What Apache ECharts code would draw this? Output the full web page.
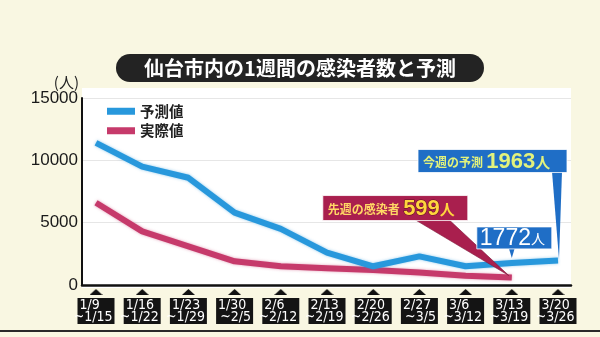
<!DOCTYPE html>
<html><head><meta charset="utf-8">
<script src="https://cdn.jsdelivr.net/npm/echarts@6/dist/echarts.min.js"></script>
<style>html,body{margin:0;padding:0;background:#f9f7e2;}#main{width:600px;height:337px;}</style>
</head><body><div id="main"></div>
<script>
const titleText = '仙台市内の1週間の感染者数と予測';
const categories = ['1/9~1/15','1/16~1/22','1/23~1/29','1/30~2/5','2/6~2/12','2/13~2/19','2/20~2/26','2/27~3/5','3/6~3/12','3/13~3/19','3/20~3/26'];
const forecast = [11400, 9500, 8600, 5800, 4500, 2600, 1500, 2300, 1500, 1772, 1963];
const actual = [6600, 4300, 3100, 1900, 1500, 1350, 1200, 1000, 750, 599];
const yTicks = [0, 5000, 10000, 15000];
const seriesNames = ['予測値', '実際値'];

const BLUE = '#2898dc', RED = '#c63a6b';
const JP = '"Noto Sans CJK JP", sans-serif';
const NUM = '"Liberation Sans", Arial, sans-serif';
const NARROW = '"Liberation Sans Narrow", "DejaVu Sans Condensed", sans-serif';

const tri = document.createElement('canvas');
tri.width = 13; tri.height = 6;
const tc = tri.getContext('2d');
tc.fillStyle = '#111'; tc.beginPath(); tc.moveTo(0,6); tc.lineTo(13,6); tc.lineTo(6.5,0); tc.closePath(); tc.fill();

const chart = echarts.init(document.getElementById('main'));
const option = {
  backgroundColor: '#f9f7e2',
  animation: false,
  grid: [
    {left: 82, right: 29, top: 98, bottom: 52},
    {left: 96, right: 42, top: 98, bottom: 52}
  ],
  legend: {
    data: seriesNames, orient: 'vertical', left: 102, top: 99,
    itemWidth: 28, itemHeight: 7, itemGap: 5, icon: 'rect',
    textStyle: {fontFamily: JP, fontSize: 14.5, fontWeight: 'bold', color: '#222'}
  },
  xAxis: [
    {type: 'value', gridIndex: 0, min: 0, max: 1,
     axisLine: {show: true, lineStyle: {color: '#111', width: 2.5}},
     axisTick: {show: false}, axisLabel: {show: false}, splitLine: {show: false}},
    {type: 'category', gridIndex: 1, data: categories, boundaryGap: false, position: 'bottom',
     axisLine: {show: false}, axisTick: {show: false}, splitLine: {show: false},
     axisLabel: {
       interval: 0, margin: 13, backgroundColor: '#141414', padding: [2, 2, 1, 2],
       lineHeight: 11.5, fontFamily: NARROW, fontSize: 14, color: '#fff',
       formatter: function (v) { const p = v.split('~'); return '{a|' + p[0] + '}\n{b|~' + p[1] + '}'; },
       rich: {
         a: {width: 33, align: 'left', lineHeight: 11.5, color: '#fff', fontFamily: NARROW, fontSize: 14},
         b: {width: 33, align: 'right', lineHeight: 11.5, color: '#fff', fontFamily: NARROW, fontSize: 14}
       }
     }},
    {type: 'category', gridIndex: 1, data: categories, boundaryGap: false, position: 'bottom', offset: 0,
     axisLine: {show: false}, axisTick: {show: false}, splitLine: {show: false},
     axisLabel: {
       interval: 0, margin: 4,
       formatter: function () { return '{tri| }'; },
       rich: {tri: {width: 13, height: 6, lineHeight: 6, backgroundColor: {image: tri}}}
     }}
  ],
  yAxis: [
    {type: 'value', gridIndex: 0, min: yTicks[0], max: yTicks[yTicks.length - 1], interval: yTicks[1] - yTicks[0],
     name: '(人)', nameLocation: 'end', nameGap: 14,
     nameTextStyle: {fontFamily: JP, fontSize: 15, color: '#222', align: 'right', verticalAlign: 'middle', padding: [0, 3, 0, 0]},
     axisLine: {show: true, lineStyle: {color: '#111', width: 2}},
     axisTick: {show: false},
     axisLabel: {fontFamily: NUM, fontSize: 17, color: '#1a1a1a', margin: 4, formatter: function (v) { return String(v); }},
     splitLine: {show: true, lineStyle: {color: '#e6e6e6', width: 1}}},
    {type: 'value', gridIndex: 1, min: yTicks[0], max: yTicks[yTicks.length - 1], show: false}
  ],
  series: [
    {name: seriesNames[0], type: 'line', xAxisIndex: 1, yAxisIndex: 1, data: forecast,
     showSymbol: false, symbol: 'none', color: BLUE,
     lineStyle: {width: 6, color: BLUE, shadowColor: 'rgba(40,152,220,0.5)', shadowBlur: 3}, z: 3},
    {name: seriesNames[1], type: 'line', xAxisIndex: 1, yAxisIndex: 1, data: actual,
     showSymbol: false, symbol: 'none', color: RED,
     lineStyle: {width: 6, color: RED, shadowColor: 'rgba(198,58,107,0.5)', shadowBlur: 3}, z: 2}
  ]
};
chart.setOption(option);

function px(si, i, v) { return chart.convertToPixel({seriesIndex: si}, [i, v]); }
const last = forecast.length - 1;
const pA = px(0, last, forecast[last]);
const pC = px(0, last - 1, forecast[last - 1]);
const lastA = actual.length - 1;
const pB = px(1, lastA, actual[lastA]);

const boxA = {x: pA[0] - 140, y: pA[1] - 111, width: 149, height: 23};
const boxB = {x: pB[0] - 189, y: pB[1] - 82, width: 145, height: 25};
const boxC = {x: pC[0] - 35, y: pC[1] - 36, width: 75, height: 22};

const graphics = [
  {type: 'rect', id: 'panel', z: -5, shape: {x: 82, y: 88, width: 489, height: 200}, style: {fill: '#ffffff'}},
  {type: 'rect', id: 'bottomline', z: -5, shape: {x: 0, y: 330, width: 600, height: 2}, style: {fill: '#2a2a2a'}},
  {type: 'rect', id: 'titlebox', z: 20, shape: {x: 116, y: 54, width: 368, height: 28, r: 14}, style: {fill: '#232323'}},
  {type: 'text', id: 'titletext', z: 21, style: {text: titleText, x: 300, y: 68.5, align: 'center', verticalAlign: 'middle',
    fill: '#fff', fontFamily: JP, fontSize: 20, fontWeight: 'bold'}},
  {type: 'polygon', id: 'tailA', z: 30, shape: {points: [[pA[0] - 6, boxA.y + boxA.height - 1], [pA[0] + 4, boxA.y + boxA.height - 1], [pA[0] + 1, pA[1] - 1]]}, style: {fill: '#1f6ec6'}},
  {type: 'rect', id: 'boxA', z: 31, shape: boxA, style: {fill: '#1f6ec6', stroke: '#ffffff', lineWidth: 0.8}},
  {type: 'text', id: 'textA', z: 32, style: {
    text: '{s|今週の予測} {n|' + forecast[last] + '}{u|人}', x: boxA.x + 5, y: boxA.y + boxA.height / 2 + 1,
    align: 'left', verticalAlign: 'middle',
    rich: {
      s: {fill: '#e2f27c', fontFamily: JP, fontSize: 12, fontWeight: 'bold'},
      n: {fill: '#e2f27c', fontFamily: NUM, fontSize: 22, fontWeight: 'bold'},
      u: {fill: '#e2f27c', fontFamily: JP, fontSize: 15, fontWeight: 'bold'}
    }}},
  {type: 'polygon', id: 'tailB', z: 30, shape: {points: [[pB[0] - 97, boxB.y + boxB.height - 1], [pB[0] - 63, boxB.y + boxB.height - 1], [pB[0] - 3, pB[1] - 2]]}, style: {fill: '#a91f4e', stroke: '#7e1538', lineWidth: 0.6}},
  {type: 'rect', id: 'boxB', z: 31, shape: boxB, style: {fill: '#a91f4e', stroke: '#ffffff', lineWidth: 0.8}},
  {type: 'text', id: 'textB', z: 32, style: {
    text: '{s|先週の感染者} {n|' + actual[lastA] + '}{u|人}', x: boxB.x + 5, y: boxB.y + boxB.height / 2 + 1,
    align: 'left', verticalAlign: 'middle',
    rich: {
      s: {fill: '#ffd865', fontFamily: JP, fontSize: 12, fontWeight: 'bold'},
      n: {fill: '#ffd43e', fontFamily: NUM, fontSize: 22, fontWeight: 'bold', stroke: '#5a1020', lineWidth: 1},
      u: {fill: '#ffd43e', fontFamily: JP, fontSize: 15, fontWeight: 'bold'}
    }}},
  {type: 'polygon', id: 'tailC', z: 30, shape: {points: [[pC[0] - 3, boxC.y + boxC.height - 1], [pC[0] + 3, boxC.y + boxC.height - 1], [pC[0], pC[1] - 5]]}, style: {fill: '#1f6ec6'}},
  {type: 'rect', id: 'boxC', z: 31, shape: boxC, style: {fill: '#1f6ec6', stroke: '#ffffff', lineWidth: 0.8}},
  {type: 'text', id: 'textC', z: 32, style: {
    text: '{n|' + forecast[last - 1] + '}{u|人}', x: boxC.x + 3, y: boxC.y + boxC.height / 2 + 1,
    align: 'left', verticalAlign: 'middle',
    rich: {
      n: {fill: '#ffffff', fontFamily: NUM, fontSize: 23},
      u: {fill: '#ffffff', fontFamily: JP, fontSize: 14}
    }}}
];
chart.setOption({graphic: graphics});
</script>
</body></html>
